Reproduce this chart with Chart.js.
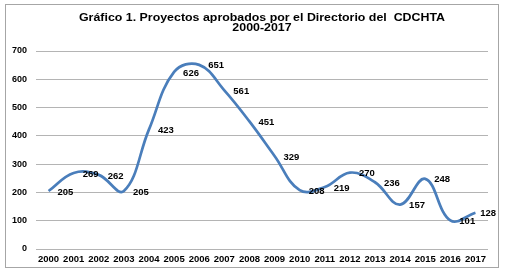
<!DOCTYPE html>
<html>
<head>
<meta charset="utf-8">
<script src="https://cdn.jsdelivr.net/npm/chart.js@4"></script>
<style>
  html, body { margin: 0; padding: 0; background: #fff; }
  #wrap { width: 507px; height: 276px; position: relative; }
</style>
</head>
<body>
<div id="wrap"><canvas id="myChart" width="507" height="276"></canvas></div>
<script>
// data
const years = ['2000', '2001', '2002', '2003', '2004', '2005', '2006', '2007', '2008',
    '2009', '2010', '2011', '2012', '2013', '2014', '2015', '2016', '2017'];
const projects = [205, 269, 262, 205, 423, 626, 651, 561, 451, 329, 208, 219, 270, 236, 157, 248, 101, 128];
const yTicks = [0, 100, 200, 300, 400, 500, 600, 700];
const titleLines = ['Gráfico 1. Proyectos aprobados por el Directorio del  CDCHTA', '2000-2017'];

const FONT = "'Liberation Sans', Arial, sans-serif";

// grey frame round the whole chart
const framePlugin = {
    id: 'frame',
    beforeDraw(chart) {
        const c = chart.ctx;
        c.save();
        c.fillStyle = '#fff';
        c.fillRect(0, 0, chart.width, chart.height);
        c.strokeStyle = '#a6a6a6';
        c.lineWidth = 1;
        c.strokeRect(5.5, 4.5, 493, 263);
        c.restore();
    }
};

// title, a bit wider than the plain font (like the original)
const titlePlugin = {
    id: 'wideTitle',
    afterDraw(chart) {
        const c = chart.ctx;
        const area = chart.chartArea;
        const cx = (area.left + area.right) / 2;
        c.save();
        c.font = 'bold 10.5px ' + FONT;
        c.fillStyle = '#000';
        c.textAlign = 'center';
        c.textBaseline = 'middle';
        titleLines.forEach((line, i) => {
            c.save();
            c.translate(cx, 18.5 + i * 9.8);
            c.scale(1.18, 1);
            c.fillText(line, 0, 0);
            c.restore();
        });
        c.restore();
    }
};

// value labels to the right of each point
const valueLabels = {
    id: 'valueLabels',
    afterDatasetsDraw(chart) {
        const c = chart.ctx;
        const meta = chart.getDatasetMeta(0);
        c.save();
        c.font = 'bold 9.5px ' + FONT;
        c.fillStyle = '#000';
        c.textBaseline = 'middle';
        c.textAlign = 'left';
        meta.data.forEach((pt, i) => {
            const txt = String(projects[i]);
            const w = c.measureText(txt).width;
            let x = pt.x + 9;
            if (x + w > 496) x = 496 - w;
            c.fillText(txt, x, pt.y + 1);
        });
        c.restore();
    }
};

const ctx = document.getElementById('myChart');

new Chart(ctx, {
    type: 'line',
    data: {
        labels: years,
        datasets: [{
            data: projects,
            borderColor: '#4a7ebb',
            borderWidth: 2.7,
            pointRadius: 0,
            tension: 0.4,
            fill: false
        }]
    },
    options: {
        responsive: false,
        animation: false,
        layout: { padding: { left: 0, right: 19, top: 51, bottom: 0 } },
        plugins: {
            legend: { display: false },
            tooltip: { enabled: false },
            title: { display: false }
        },
        scales: {
            x: {
                offset: true,
                grid: { display: false, drawTicks: false },
                border: { display: false },
                ticks: {
                    color: '#000',
                    font: { family: FONT, size: 9.5, weight: 'bold' },
                    padding: 5,
                    autoSkip: false,
                    maxRotation: 0
                },
                afterFit(scale) { scale.height = 27; }
            },
            y: {
                min: 0,
                max: 700,
                afterBuildTicks(scale) { scale.ticks = yTicks.map(v => ({ value: v })); },
                grid: { color: '#b4b4b4', lineWidth: 1, drawTicks: false },
                border: { display: false },
                ticks: {
                    color: '#000',
                    font: { family: FONT, size: 9, weight: 'bold' },
                    padding: 9
                },
                afterFit(scale) { scale.width = 36; }
            }
        }
    },
    plugins: [framePlugin, titlePlugin, valueLabels]
});
</script>
</body>
</html>
